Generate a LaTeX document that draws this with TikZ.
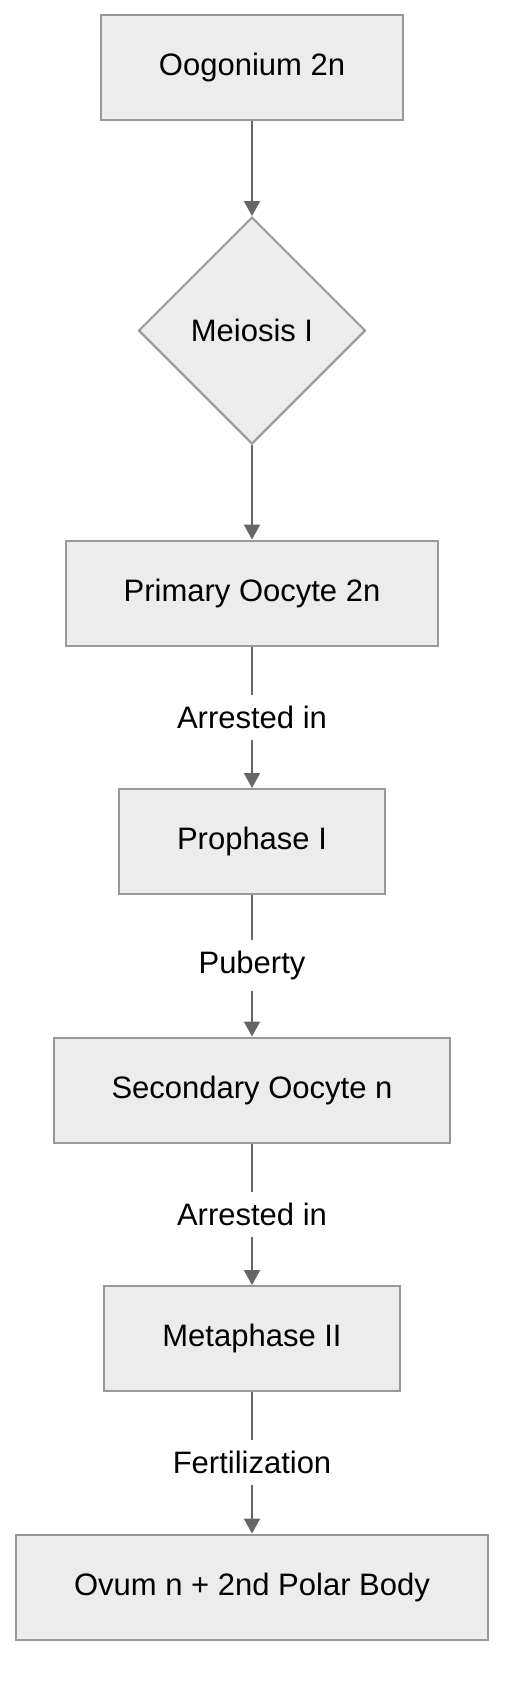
\documentclass[tikz,border=0pt]{standalone}
\usepackage{fontspec}
\setmainfont{Liberation Sans}
\usepackage{tikz}
\usetikzlibrary{arrows.meta,shapes.geometric,positioning}
\definecolor{boxfill}{RGB}{236,236,236}
\definecolor{boxline}{RGB}{153,153,153}
\definecolor{edgegray}{RGB}{102,102,102}
\tikzset{
    % Process box (mermaid look)
    procbox/.style={
        rectangle, draw=boxline, fill=boxfill, line width=2pt,
        minimum height=105pt, inner xsep=58pt,
        font=\fontsize{31}{37}\selectfont
    },
    % Decision diamond
    decbox/.style={
        diamond, draw=boxline, fill=boxfill, line width=2pt,
        minimum width=227pt, minimum height=227pt, inner sep=0pt,
        font=\fontsize{31}{37}\selectfont
    },
    % Edge label sitting on the line
    edgelbl/.style={
        fill=white, text=black, inner xsep=6pt, inner ysep=11pt,
        font=\fontsize{31}{37}\selectfont
    },
}

\begin{document}
\begin{tikzpicture}[x=1pt,y=-1pt,node distance=141.5pt,
   ar/.style={-{Triangle[length=15pt,width=16pt]},line width=2pt,edgegray}]
  \useasboundingbox (0,0) rectangle (520,1708);
  \node[procbox] (a) at (252,67.5) {Oogonium 2n};
  \node[decbox,below=95pt of a] (b) {Meiosis I};
  \node[procbox,below=94.5pt of b] (c) {Primary Oocyte 2n};
  \node[procbox,below=of c] (d) {Prophase I};
  \node[procbox,below=of d] (e) {Secondary Oocyte n};
  \node[procbox,below=of e] (f) {Metaphase II};
  \node[procbox,below=of f] (g) {Ovum n + 2nd Polar Body};
  \draw[ar] (a)--(b); \draw[ar] (b)--(c);
  \draw[ar] (c) -- node[edgelbl] {Arrested in} (d);
  \draw[ar] (d) -- node[edgelbl] {Puberty} (e);
  \draw[ar] (e) -- node[edgelbl] {Arrested in} (f);
  \draw[ar] (f) -- node[edgelbl] {Fertilization} (g);
\end{tikzpicture}
\end{document}
